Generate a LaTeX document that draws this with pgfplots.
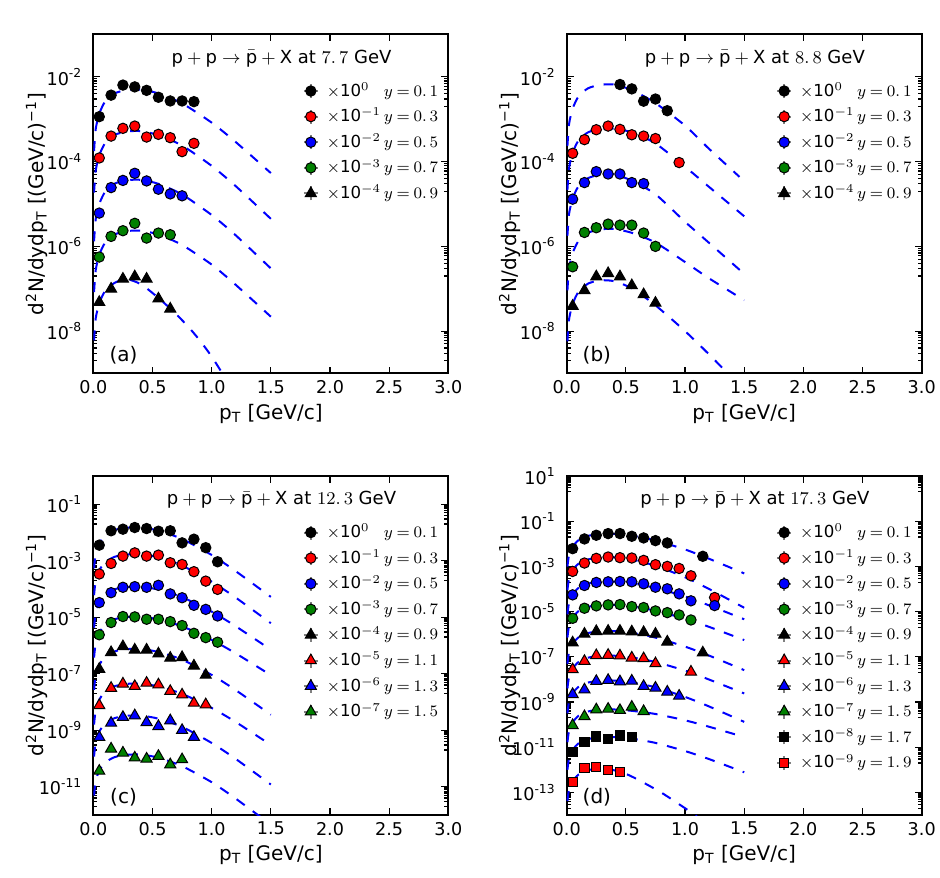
\documentclass[border=0pt]{standalone}
\usepackage[no-math]{fontspec}
\setmainfont{DejaVu Sans}
\usepackage{pgfplots}
\pgfplotsset{compat=1.18}
\definecolor{mred}{rgb}{1,0,0}
\definecolor{mblue}{rgb}{0,0,1}
\definecolor{mgreen}{rgb}{0,0.5,0}
\newcommand\lent[2]{\makebox[28.5pt][l]{$\times$10$^{#1}$}{\thickmuskip=4mu$y=#2$}}
\newcommand\ttl[1]{$\mbox{p}+\mbox{p}\rightarrow\bar{\mbox{p}}+\mbox{X}$ at $#1$ GeV}
\newcommand\tl[1]{10\textsuperscript{#1}}
\pgfplotsset{
 pnl/.style={
  scale only axis, width=177.5pt, height=169.5pt, anchor=south west,
  xmin=0, xmax=3,
  xtick={0,0.5,1,1.5,2,2.5,3}, xticklabels={0.0,0.5,1.0,1.5,2.0,2.5,3.0},
  tick align=inside, major tick length=3.5pt, minor tick length=2pt,
  tick style={black, line width=0.6pt},
  axis line style={line width=1pt},
  tick label style={font=\fontsize{8.8}{10.5}\selectfont},
  yticklabel style={xshift=-2pt},
  label style={font=\fontsize{9}{11}\selectfont},
  xlabel={p\textsubscript{T} [GeV/c]},
  ylabel={d\textsuperscript{2}N/dydp\textsubscript{T} [(GeV/c)\textsuperscript{−1}]},
  every axis x label/.style={at={(axis description cs:0.5,0)}, anchor=center, yshift=-20pt},
  every axis y label/.style={at={(axis description cs:-0.16,0.5)}, anchor=center, rotate=90},
  legend cell align=left,
  legend style={draw=none, fill=none, inner sep=0pt, at={(axis description cs:0.589,0.861)}, anchor=north west,
    font=\fontsize{8.3}{10}\selectfont, row sep=3.8pt, column sep=4pt,
    nodes={inner sep=0pt, text height=7pt, text depth=2pt}},
 },
 dat/.style 2 args={only marks, mark=#1, mark options={draw=black, fill=#2, line width=0.5pt, solid},
   legend image code/.code={\draw[black!50,line width=1pt] (0pt,-3.5pt)--(0pt,3.5pt) (-3.5pt,0pt)--(3.5pt,0pt); \draw[##1] plot coordinates {(0pt,0pt)};}},
 circ/.style={dat={*}{#1}, mark size=2.6pt},
 tri/.style={dat={triangle*}{#1}, mark size=3.2pt},
 sq/.style={dat={square*}{#1}, mark size=2.3pt},
 fitc/.style={forget plot, no markers, draw=mblue, line width=1pt, dash pattern=on 5pt off 5pt, smooth, tension=0.4},
}
\begin{document}
\begin{tikzpicture}
\useasboundingbox (0,0) rectangle (470pt,438.5pt);
% ---------------- (a)
\begin{axis}[ymode=log, pnl, at={(46.67pt,251.75pt)}, ymin=1e-9, ymax=1e-1,
 ytick={1e-8,1e-6,1e-4,1e-2}, yticklabels={\tl{-8},\tl{-6},\tl{-4},\tl{-2}},
 minor ytick={2e-9,3e-9,4e-9,5e-9,6e-9,7e-9,8e-9,9e-9,2e-7,3e-7,4e-7,5e-7,6e-7,7e-7,8e-7,9e-7,2e-5,3e-5,4e-5,5e-5,6e-5,7e-5,8e-5,9e-5,2e-3,3e-3,4e-3,5e-3,6e-3,7e-3,8e-3,9e-3}]
\addplot[circ=black] coordinates {(0.05,1.15e-3)(0.15,3.7e-3)(0.25,6.4e-3)(0.35,5.8e-3)(0.45,4.8e-3)(0.55,3.3e-3)(0.65,2.7e-3)(0.75,2.7e-3)(0.85,2.6e-3)};
\addlegendentry{\lent{0}{0.\,1}}
\addplot[circ=mred] coordinates {(0.05,1.22e-4)(0.15,4.0e-4)(0.25,6.1e-4)(0.35,6.9e-4)(0.45,3.8e-4)(0.55,4.4e-4)(0.65,3.67e-4)(0.75,1.72e-4)(0.85,2.7e-4)};
\addlegendentry{\lent{-1}{0.\,3}}
\addplot[circ=mblue] coordinates {(0.05,6.1e-6)(0.15,2.44e-5)(0.25,3.6e-5)(0.35,5.3e-5)(0.45,3.5e-5)(0.55,2.23e-5)(0.65,1.73e-5)(0.75,1.56e-5)};
\addlegendentry{\lent{-2}{0.\,5}}
\addplot[circ=mgreen] coordinates {(0.05,5.6e-7)(0.15,1.72e-6)(0.25,2.34e-6)(0.35,3.5e-6)(0.45,1.57e-6)(0.55,2.06e-6)(0.65,1.88e-6)};
\addlegendentry{\lent{-3}{0.\,7}}
\addplot[tri=black] coordinates {(0.05,4.8e-8)(0.15,9.9e-8)(0.25,1.70e-7)(0.35,1.93e-7)(0.45,1.70e-7)(0.55,5.8e-8)(0.65,3.35e-8)};
\addlegendentry{\lent{-4}{0.\,9}}
\addplot[fitc] coordinates {(0.006,1.78e-4)(0.02,5.89e-4)(0.05,1.35e-3)(0.1,2.63e-3)(0.18,4.07e-3)(0.28,4.90e-3)(0.4,5.01e-3)(0.55,4.07e-3)(0.75,2.37e-3)(1.0,8.32e-4)(1.2,2.95e-4)(1.5,5.37e-5)};
\addplot[fitc] coordinates {(0.006,1.86e-5)(0.02,6.17e-5)(0.05,1.41e-4)(0.1,2.75e-4)(0.18,4.27e-4)(0.28,5.13e-4)(0.4,5.25e-4)(0.55,4.22e-4)(0.75,2.40e-4)(1.0,7.94e-5)(1.2,2.69e-5)(1.5,4.47e-6)};
\addplot[fitc] coordinates {(0.006,1.32e-6)(0.02,4.37e-6)(0.05,1.00e-5)(0.1,1.95e-5)(0.18,3.02e-5)(0.28,3.63e-5)(0.4,3.72e-5)(0.55,2.99e-5)(0.75,1.68e-5)(1.0,5.50e-6)(1.2,1.86e-6)(1.5,3.02e-7)};
\addplot[fitc] coordinates {(0.006,8.32e-8)(0.02,2.75e-7)(0.05,6.31e-7)(0.1,1.23e-6)(0.18,1.91e-6)(0.28,2.29e-6)(0.4,2.34e-6)(0.55,1.91e-6)(0.75,1.08e-6)(1.0,3.72e-7)(1.2,1.26e-7)(1.5,2.19e-8)};
\addplot[fitc] coordinates {(0.006,6.03e-9)(0.02,2.00e-8)(0.05,4.57e-8)(0.1,8.91e-8)(0.18,1.38e-7)(0.28,1.70e-7)(0.4,1.29e-7)(0.5,7.94e-8)(0.6,4.57e-8)(0.7,2.51e-8)(0.8,1.29e-8)(0.9,6.03e-9)(1.0,2.51e-9)(1.1,9.12e-10)};
\node[font=\fontsize{9}{11}\selectfont] at (axis description cs:0.53,0.93) {\ttl{7.\,7}};
\node[font=\fontsize{10}{12}\selectfont] at (axis description cs:0.085,0.053) {(a)};
\end{axis}
% ---------------- (b)
\begin{axis}[ymode=log, pnl, at={(283.35pt,251.75pt)}, ymin=1e-9, ymax=1e-1,
 ytick={1e-8,1e-6,1e-4,1e-2}, yticklabels={\tl{-8},\tl{-6},\tl{-4},\tl{-2}},
 minor ytick={2e-9,3e-9,4e-9,5e-9,6e-9,7e-9,8e-9,9e-9,2e-7,3e-7,4e-7,5e-7,6e-7,7e-7,8e-7,9e-7,2e-5,3e-5,4e-5,5e-5,6e-5,7e-5,8e-5,9e-5,2e-3,3e-3,4e-3,5e-3,6e-3,7e-3,8e-3,9e-3}]
\addplot[circ=black] coordinates {(0.45,6.6e-3)(0.55,5.2e-3)(0.65,2.67e-3)(0.75,3.0e-3)(0.85,1.59e-3)};
\addlegendentry{\lent{0}{0.\,1}}
\addplot[circ=mred] coordinates {(0.05,1.57e-4)(0.15,3.3e-4)(0.25,5.66e-4)(0.35,6.9e-4)(0.45,5.77e-4)(0.55,4.3e-4)(0.65,4.0e-4)(0.75,3.5e-4)(0.95,9.5e-5)};
\addlegendentry{\lent{-1}{0.\,3}}
\addplot[circ=mblue] coordinates {(0.05,1.3e-5)(0.15,3.2e-5)(0.25,5.8e-5)(0.35,5.1e-5)(0.45,5.1e-5)(0.55,3.2e-5)(0.65,3.03e-5)};
\addlegendentry{\lent{-2}{0.\,5}}
\addplot[circ=mgreen] coordinates {(0.05,3.3e-7)(0.15,2.13e-6)(0.25,2.75e-6)(0.35,3.35e-6)(0.45,3.17e-6)(0.55,3.17e-6)(0.65,2.06e-6)(0.75,1.0e-6)};
\addlegendentry{\lent{-3}{0.\,7}}
\addplot[tri=black] coordinates {(0.05,3.9e-8)(0.15,9.1e-8)(0.25,1.93e-7)(0.35,2.3e-7)(0.45,1.93e-7)(0.55,1.19e-7)(0.65,7.3e-8)(0.75,4.6e-8)};
\addlegendentry{\lent{-4}{0.\,9}}
\addplot[fitc] coordinates {(0.006,2.34e-4)(0.02,7.76e-4)(0.05,1.78e-3)(0.1,3.47e-3)(0.18,5.37e-3)(0.28,6.46e-3)(0.4,6.61e-3)(0.55,4.90e-3)(0.75,2.40e-3)(1.0,7.08e-4)(1.2,2.04e-4)(1.46,4.37e-5)};
\addplot[fitc] coordinates {(0.006,2.14e-5)(0.02,7.08e-5)(0.05,1.62e-4)(0.1,3.16e-4)(0.18,4.90e-4)(0.28,5.89e-4)(0.4,6.03e-4)(0.55,4.90e-4)(0.75,2.69e-4)(1.0,7.59e-5)(1.2,2.57e-5)(1.5,5.13e-6)};
\addplot[fitc] coordinates {(0.006,1.78e-6)(0.02,5.89e-6)(0.05,1.35e-5)(0.1,2.63e-5)(0.18,4.07e-5)(0.28,4.90e-5)(0.4,5.01e-5)(0.55,3.55e-5)(0.75,1.70e-5)(1.0,3.80e-6)(1.2,1.23e-6)(1.5,2.24e-7)};
\addplot[fitc] coordinates {(0.006,9.12e-8)(0.02,3.02e-7)(0.05,6.92e-7)(0.1,1.35e-6)(0.18,2.09e-6)(0.28,2.51e-6)(0.4,2.57e-6)(0.55,2.09e-6)(0.75,1.23e-6)(1.0,4.27e-7)(1.2,1.78e-7)(1.5,5.37e-8)};
\addplot[fitc] coordinates {(0.006,5.75e-9)(0.02,1.91e-8)(0.05,4.37e-8)(0.1,8.51e-8)(0.18,1.32e-7)(0.28,1.58e-7)(0.4,1.51e-7)(0.55,1.02e-7)(0.75,4.07e-8)(1.0,1.00e-8)(1.2,2.88e-9)(1.4,7.76e-10)};
\node[font=\fontsize{9}{11}\selectfont] at (axis description cs:0.53,0.93) {\ttl{8.\,8}};
\node[font=\fontsize{10}{12}\selectfont] at (axis description cs:0.085,0.053) {(b)};
\end{axis}
% ---------------- (c)
\begin{axis}[ymode=log, pnl, at={(46.67pt,31pt)}, ymin=1e-12, ymax=1,
 ytick={1e-11,1e-9,1e-7,1e-5,1e-3,1e-1}, yticklabels={\tl{-11},\tl{-9},\tl{-7},\tl{-5},\tl{-3},\tl{-1}},
 minor ytick={2e-12,3e-12,4e-12,5e-12,6e-12,7e-12,8e-12,9e-12,2e-10,3e-10,4e-10,5e-10,6e-10,7e-10,8e-10,9e-10,2e-8,3e-8,4e-8,5e-8,6e-8,7e-8,8e-8,9e-8,2e-6,3e-6,4e-6,5e-6,6e-6,7e-6,8e-6,9e-6,2e-4,3e-4,4e-4,5e-4,6e-4,7e-4,8e-4,9e-4,2e-2,3e-2,4e-2,5e-2,6e-2,7e-2,8e-2,9e-2}]
\addplot[circ=black] coordinates {(0.05,3.57e-3)(0.15,1.15e-2)(0.25,1.31e-2)(0.35,1.5e-2)(0.45,1.38e-2)(0.55,1.11e-2)(0.65,1.15e-2)(0.75,4.3e-3)(0.85,5.8e-3)(0.95,2.9e-3)(1.05,9.2e-4)};
\addlegendentry{\lent{0}{0.\,1}}
\addplot[circ=mred] coordinates {(0.05,3.4e-4)(0.15,8.0e-4)(0.25,1.46e-3)(0.35,1.9e-3)(0.45,1.46e-3)(0.55,1.58e-3)(0.65,8.5e-4)(0.75,7.4e-4)(0.85,4.1e-4)(0.95,1.9e-4)(1.05,9.7e-5)};
\addlegendentry{\lent{-1}{0.\,3}}
\addplot[circ=mblue] coordinates {(0.05,3.3e-5)(0.15,7.4e-5)(0.25,1.15e-4)(0.35,1.21e-4)(0.45,1.15e-4)(0.55,1.35e-4)(0.65,6.7e-5)(0.75,4.9e-5)(0.85,2.65e-5)(0.95,1.9e-5)(1.05,1.11e-5)};
\addlegendentry{\lent{-2}{0.\,5}}
\addplot[circ=mgreen] coordinates {(0.05,2.4e-6)(0.15,6.5e-6)(0.25,1.06e-5)(0.35,1.03e-5)(0.45,8.5e-6)(0.55,8.5e-6)(0.65,7.0e-6)(0.75,5.1e-6)(0.85,2.7e-6)(0.95,1.9e-6)(1.05,1.31e-6)};
\addlegendentry{\lent{-3}{0.\,7}}
\addplot[tri=black] coordinates {(0.05,1.46e-7)(0.15,5.7e-7)(0.25,9.2e-7)(0.35,7.0e-7)(0.45,7.0e-7)(0.55,5.1e-7)(0.65,3.6e-7)(0.75,3.8e-7)(0.85,1.9e-7)(0.95,9.0e-8)};
\addlegendentry{\lent{-4}{0.\,9}}
\addplot[tri=mred] coordinates {(0.05,7.6e-9)(0.15,3.1e-8)(0.25,4.4e-8)(0.35,3.6e-8)(0.45,4.7e-8)(0.55,4.1e-8)(0.65,2.4e-8)(0.75,1.8e-8)(0.85,9.2e-9)(0.95,8.1e-9)};
\addlegendentry{\lent{-5}{1.\,1}}
\addplot[tri=mblue] coordinates {(0.05,5.7e-10)(0.15,1.8e-9)(0.25,2.9e-9)(0.35,3.3e-9)(0.45,1.9e-9)(0.55,1.38e-9)(0.65,2.2e-9)(0.75,1.0e-9)(0.85,5.7e-10)};
\addlegendentry{\lent{-6}{1.\,3}}
\addplot[tri=mgreen] coordinates {(0.05,3.6e-11)(0.15,2.2e-10)(0.25,1.58e-10)(0.35,1.06e-10)(0.45,9.7e-11)(0.55,1.21e-10)(0.65,6.1e-11)(0.75,9.2e-11)};
\addlegendentry{\lent{-7}{1.\,5}}
\addplot[fitc] coordinates {(0.006,5.37e-4)(0.02,1.78e-3)(0.05,4.07e-3)(0.1,7.94e-3)(0.18,1.23e-2)(0.28,1.48e-2)(0.4,1.51e-2)(0.55,1.17e-2)(0.75,5.89e-3)(1.0,1.60e-3)(1.2,4.37e-4)(1.5,5.25e-5)};
\addplot[fitc] coordinates {(0.006,6.03e-5)(0.02,2.00e-4)(0.05,4.57e-4)(0.1,8.91e-4)(0.18,1.38e-3)(0.28,1.66e-3)(0.4,1.70e-3)(0.55,1.32e-3)(0.75,6.76e-4)(1.0,1.82e-4)(1.2,5.07e-5)(1.5,6.17e-6)};
\addplot[fitc] coordinates {(0.006,4.27e-6)(0.02,1.41e-5)(0.05,3.24e-5)(0.1,6.31e-5)(0.18,9.77e-5)(0.28,1.17e-4)(0.4,1.20e-4)(0.55,9.55e-5)(0.75,5.13e-5)(1.0,1.58e-5)(1.2,4.90e-6)(1.5,7.08e-7)};
\addplot[fitc] coordinates {(0.006,3.72e-7)(0.02,1.23e-6)(0.05,2.82e-6)(0.1,5.50e-6)(0.18,8.51e-6)(0.28,1.02e-5)(0.4,1.05e-5)(0.55,8.41e-6)(0.75,4.79e-6)(1.0,1.58e-6)(1.2,5.37e-7)(1.5,8.91e-8)};
\addplot[fitc] coordinates {(0.006,2.69e-8)(0.02,8.91e-8)(0.05,2.04e-7)(0.1,3.98e-7)(0.18,6.17e-7)(0.28,7.41e-7)(0.4,7.59e-7)(0.55,5.89e-7)(0.75,3.16e-7)(1.0,9.12e-8)(1.2,2.69e-8)(1.5,3.55e-9)};
\addplot[fitc] coordinates {(0.006,1.58e-9)(0.02,5.25e-9)(0.05,1.20e-8)(0.1,2.34e-8)(0.18,3.63e-8)(0.28,4.37e-8)(0.4,4.47e-8)(0.55,3.55e-8)(0.75,1.95e-8)(1.0,6.17e-9)(1.2,2.00e-9)(1.5,3.02e-10)};
\addplot[fitc] coordinates {(0.006,1.17e-10)(0.02,3.89e-10)(0.05,8.91e-10)(0.1,1.74e-9)(0.18,2.69e-9)(0.28,3.24e-9)(0.4,3.31e-9)(0.55,2.57e-9)(0.75,1.32e-9)(1.0,3.55e-10)(1.2,9.89e-11)(1.5,1.20e-11)};
\addplot[fitc] coordinates {(0.006,4.90e-12)(0.02,1.62e-11)(0.05,3.72e-11)(0.1,7.24e-11)(0.18,1.12e-10)(0.28,1.35e-10)(0.4,1.38e-10)(0.55,1.07e-10)(0.75,5.37e-11)(1.0,1.45e-11)(1.2,3.89e-12)(1.5,4.57e-13)};
\node[font=\fontsize{9}{11}\selectfont] at (axis description cs:0.53,0.93) {\ttl{12.\,3}};
\node[font=\fontsize{10}{12}\selectfont] at (axis description cs:0.085,0.053) {(c)};
\end{axis}
% ---------------- (d)
\begin{axis}[ymode=log, pnl, at={(283.35pt,31pt)}, ymin=1e-14, ymax=10,
 ytick={1e-13,1e-11,1e-9,1e-7,1e-5,1e-3,1e-1,1e1}, yticklabels={\tl{-13},\tl{-11},\tl{-9},\tl{-7},\tl{-5},\tl{-3},\tl{-1},\tl{1}},
 minor ytick={2e-14,3e-14,4e-14,5e-14,6e-14,7e-14,8e-14,9e-14,2e-12,3e-12,4e-12,5e-12,6e-12,7e-12,8e-12,9e-12,2e-10,3e-10,4e-10,5e-10,6e-10,7e-10,8e-10,9e-10,2e-8,3e-8,4e-8,5e-8,6e-8,7e-8,8e-8,9e-8,2e-6,3e-6,4e-6,5e-6,6e-6,7e-6,8e-6,9e-6,2e-4,3e-4,4e-4,5e-4,6e-4,7e-4,8e-4,9e-4,2e-2,3e-2,4e-2,5e-2,6e-2,7e-2,8e-2,9e-2,2,3,4,5,6,7,8,9}]
\addplot[circ=black] coordinates {(0.05,6.1e-3)(0.15,1.64e-2)(0.25,2.39e-2)(0.35,2.83e-2)(0.45,2.83e-2)(0.55,2.15e-2)(0.65,1.82e-2)(0.75,1.38e-2)(0.85,1.09e-2)(1.15,2.8e-3)};
\addlegendentry{\lent{0}{0.\,1}}
\addplot[circ=mred] coordinates {(0.05,6.0e-4)(0.15,1.41e-3)(0.25,2.27e-3)(0.35,2.6e-3)(0.45,2.43e-3)(0.55,2.35e-3)(0.65,1.85e-3)(0.75,1.19e-3)(0.85,1.0e-3)(0.95,8.1e-4)(1.05,3.85e-4)(1.25,4.2e-5)};
\addlegendentry{\lent{-1}{0.\,3}}
\addplot[circ=mblue] coordinates {(0.05,5.5e-5)(0.15,1.43e-4)(0.25,1.95e-4)(0.35,2.08e-4)(0.45,2.15e-4)(0.55,2.08e-4)(0.65,1.7e-4)(0.75,1.2e-4)(0.85,1.02e-4)(0.95,6.1e-5)(1.05,3.0e-5)(1.25,1.85e-5)};
\addlegendentry{\lent{-2}{0.\,5}}
\addplot[circ=mgreen] coordinates {(0.05,5.06e-6)(0.15,1.41e-5)(0.25,1.79e-5)(0.35,1.98e-5)(0.45,2.05e-5)(0.55,1.67e-5)(0.65,1.51e-5)(0.75,1.07e-5)(0.85,9.0e-6)(0.95,7.1e-6)(1.05,4.26e-6)};
\addlegendentry{\lent{-3}{0.\,7}}
\addplot[tri=black] coordinates {(0.05,4.2e-7)(0.15,1.02e-6)(0.25,1.34e-6)(0.35,1.38e-6)(0.45,1.38e-6)(0.55,1.29e-6)(0.65,1.21e-6)(0.75,1.02e-6)(0.85,4.6e-7)(1.15,1.51e-7)};
\addlegendentry{\lent{-4}{0.\,9}}
\addplot[tri=mred] coordinates {(0.05,2.74e-8)(0.15,6.4e-8)(0.25,1.15e-7)(0.35,1.19e-7)(0.45,1.11e-7)(0.55,9.0e-8)(0.65,8.4e-8)(0.75,5.06e-8)(1.05,2.15e-8)};
\addlegendentry{\lent{-5}{1.\,1}}
\addplot[tri=mblue] coordinates {(0.05,2.19e-9)(0.15,3.5e-9)(0.25,8.3e-9)(0.35,9.2e-9)(0.45,8.0e-9)(0.55,8.6e-9)(0.65,5.0e-9)(0.75,4.2e-9)(0.85,2.8e-9)(0.95,1.85e-9)};
\addlegendentry{\lent{-6}{1.\,3}}
\addplot[tri=mgreen] coordinates {(0.05,9.2e-11)(0.15,2.3e-10)(0.25,4.6e-10)(0.35,4.9e-10)(0.45,4.3e-10)(0.55,6.0e-10)(0.65,3.85e-10)};
\addlegendentry{\lent{-7}{1.\,5}}
\addplot[sq=black] coordinates {(0.05,6.0e-12)(0.15,1.67e-11)(0.25,2.98e-11)(0.35,2.27e-11)(0.45,3.3e-11)(0.55,2.78e-11)};
\addlegendentry{\lent{-8}{1.\,7}}
\addplot[sq=mred] coordinates {(0.05,2.78e-13)(0.15,1.2e-12)(0.25,1.29e-12)(0.35,1.02e-12)(0.45,7.7e-13)};
\addlegendentry{\lent{-9}{1.\,9}}
\addplot[fitc] coordinates {(0.006,9.77e-4)(0.02,3.24e-3)(0.05,7.41e-3)(0.1,1.45e-2)(0.18,2.24e-2)(0.28,2.69e-2)(0.4,2.75e-2)(0.55,2.29e-2)(0.75,1.41e-2)(1.0,5.62e-3)(1.2,2.21e-3)(1.5,4.90e-4)};
\addplot[fitc] coordinates {(0.006,8.91e-5)(0.02,2.95e-4)(0.05,6.76e-4)(0.1,1.32e-3)(0.18,2.04e-3)(0.28,2.45e-3)(0.4,2.51e-3)(0.55,2.00e-3)(0.75,1.07e-3)(1.0,3.31e-4)(1.2,1.02e-4)(1.5,1.48e-5)};
\addplot[fitc] coordinates {(0.006,7.59e-6)(0.02,2.51e-5)(0.05,5.75e-5)(0.1,1.12e-4)(0.18,1.74e-4)(0.28,2.09e-4)(0.4,2.14e-4)(0.55,1.78e-4)(0.75,1.12e-4)(1.0,4.68e-5)(1.2,1.91e-5)(1.5,4.57e-6)};
\addplot[fitc] coordinates {(0.006,7.08e-7)(0.02,2.34e-6)(0.05,5.37e-6)(0.1,1.05e-5)(0.18,1.62e-5)(0.28,1.95e-5)(0.4,2.00e-5)(0.55,1.70e-5)(0.75,1.10e-5)(1.0,4.79e-6)(1.2,2.14e-6)(1.5,5.50e-7)};
\addplot[fitc] coordinates {(0.006,4.90e-8)(0.02,1.62e-7)(0.05,3.72e-7)(0.1,7.24e-7)(0.18,1.12e-6)(0.28,1.35e-6)(0.4,1.38e-6)(0.55,1.15e-6)(0.75,7.08e-7)(1.0,2.82e-7)(1.2,1.15e-7)(1.5,2.57e-8)};
\addplot[fitc] coordinates {(0.006,3.98e-9)(0.02,1.32e-8)(0.05,3.02e-8)(0.1,5.89e-8)(0.18,9.12e-8)(0.28,1.10e-7)(0.4,1.12e-7)(0.55,9.33e-8)(0.75,5.89e-8)(1.0,2.45e-8)(1.2,1.00e-8)(1.5,2.40e-9)};
\addplot[fitc] coordinates {(0.006,3.16e-10)(0.02,1.05e-9)(0.05,2.40e-9)(0.1,4.68e-9)(0.18,7.24e-9)(0.28,8.71e-9)(0.4,8.91e-9)(0.55,7.41e-9)(0.75,4.47e-9)(1.0,1.68e-9)(1.2,6.46e-10)(1.5,1.32e-10)};
\addplot[fitc] coordinates {(0.006,1.66e-11)(0.02,5.50e-11)(0.05,1.26e-10)(0.1,2.45e-10)(0.18,3.80e-10)(0.28,4.57e-10)(0.4,4.68e-10)(0.55,4.07e-10)(0.75,2.95e-10)(1.0,1.55e-10)(1.2,8.13e-11)(1.5,2.82e-11)};
\addplot[fitc] coordinates {(0.006,1.00e-12)(0.02,3.31e-12)(0.05,7.59e-12)(0.1,1.48e-11)(0.18,2.29e-11)(0.28,2.75e-11)(0.4,2.82e-11)(0.55,2.40e-11)(0.75,1.55e-11)(1.0,6.76e-12)(1.2,3.02e-12)(1.5,7.76e-13)};
\addplot[fitc] coordinates {(0.006,4.17e-14)(0.02,1.38e-13)(0.05,3.16e-13)(0.1,6.17e-13)(0.18,9.55e-13)(0.28,1.17e-12)(0.4,9.55e-13)(0.5,6.61e-13)(0.6,3.72e-13)(0.8,9.77e-14)(1.0,2.00e-14)(1.1,8.71e-15)};
\node[font=\fontsize{9}{11}\selectfont] at (axis description cs:0.53,0.93) {\ttl{17.\,3}};
\node[font=\fontsize{10}{12}\selectfont] at (axis description cs:0.085,0.053) {(d)};
\end{axis}
\end{tikzpicture}
\end{document}
